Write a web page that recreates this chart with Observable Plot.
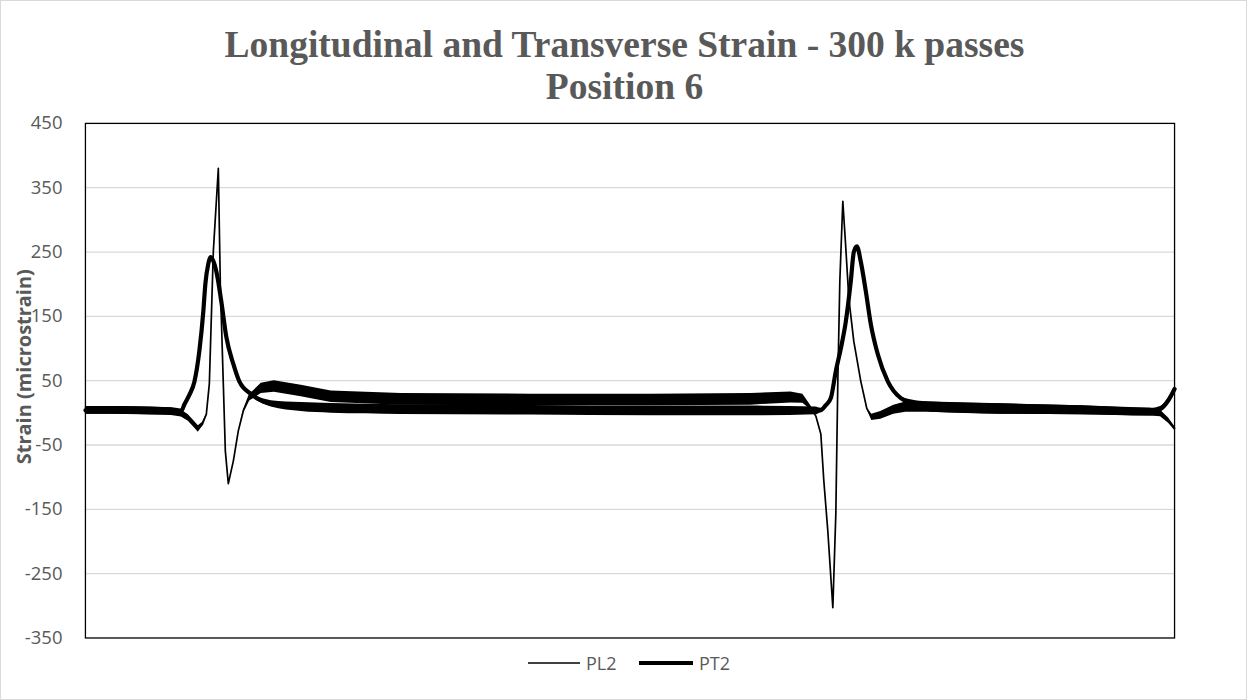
<!DOCTYPE html>
<html>
<head>
<meta charset="utf-8">
<script src="https://cdn.jsdelivr.net/npm/d3@7"></script>
<script src="https://cdn.jsdelivr.net/npm/@observablehq/plot@0.6"></script>
<style>
  html, body { margin: 0; padding: 0; background: #fff; }
  #wrap { position: relative; width: 1247px; height: 700px; box-sizing: border-box; border: 1px solid #d9d9d9; overflow: hidden; }
  #chart { position: absolute; left: -1px; top: -1px; }
  #title { position: absolute; left: 0; top: 23px; width: 1247px; text-align: center;
           font-family: "Liberation Serif", "Times New Roman", serif; font-weight: 700;
           font-size: 37.5px; line-height: 42px; color: #595959; }
  #legend { position: absolute; top: 650px; left: 0; width: 1247px; height: 24px;
            font-family: "Open Sans", sans-serif; font-size: 18px; color: #595959; }
  .lg { position: absolute; top: 0; display: flex; align-items: center; height: 24px; }
</style>
</head>
<body>
<div id="wrap">
  <div id="chart"></div>
  <div id="title">Longitudinal and Transverse Strain - 300 k passes<br>Position 6</div>
  <div id="legend"></div>
</div>
<script>
// ---- data (sample position, strain in microstrain, noise half-band) ----
const yLabel = "Strain (microstrain)";
const yTicks = [-350, -250, -150, -50, 50, 150, 250, 350, 450];
const seriesNames = ["PL2", "PT2"];

const pl2T = [0,26,56,86,96,103,109,113,117,121,124,128,133,135,138,140,143,148,153,158,164,176,189,216,246,316,446,566,666,706,718,726,731,736,739,743,748,751,753,755,758,761,764,769,776,782,787,796,809,821,846,916,996,1066,1076,1084,1090];
const pl2V = [4,4,3,2,-1,-8,-18,-25,-18,-2,45,251,380,200,45,-59,-110,-75,-28,3,23,38,41,34,25,21,20,20,21,24,22,8,-5,-33,-106,-184,-303,-157,49,205,329,256,178,111,49,7,-7,-4,5,9,9,6,4,1,-1,-12,-24];
const pl2N = [6,6,6,6,5.5,5,5,5,3,0,0,0,0,0,0,0,0,0,0,1,5,8,9,9,9,9,9,9,9,8.5,7,3,0,0,0,0,0,0,0,0,0,0,0,0,0,1,5,6,7,8,8,8,7,6,5,4,3];

const pt2T = [0,36,66,91,96,99,104,109,114,118,120,123,125,128,131,136,141,148,154,166,186,216,246,316,446,566,666,731,736,741,746,751,756,761,766,769,772,776,781,786,793,803,816,831,846,916,996,1066,1076,1084,1090];
const pt2V = [4,4,3,2,3,13,28,48,96,158,200,232,242,236,220,173,118,76,49,29,14,9,7,5,4,3,3,3,4,12,23,65,100,142,205,250,259,235,189,138,91,49,23,14,9,6,4,1,6,20,37];
const pt2N = [6,6,6,5,3,0,0,0,0,0,0,0,0,0,0,0,0,0,0,2,5,7,7.5,7.5,7.5,7.5,7.5,6,3,0,0,0,0,0,0,0,0,0,0,0,0,0,2,5,8,8,7,6,4,3,2];

const pl2 = pl2T.map((t, i) => ({t, v: pl2V[i], n: pl2N[i]}));
const pt2 = pt2T.map((t, i) => ({t, v: pt2V[i], n: pt2N[i]}));
const gridVals = yTicks.filter(v => v > -350 && v < 450);

const chart = Plot.plot({
  width: 1247,
  height: 700,
  marginLeft: 85,
  marginRight: 72,
  marginTop: 123,
  marginBottom: 62,
  style: { fontFamily: "'Open Sans', sans-serif", fontSize: "18.5px", color: "#595959", background: "transparent" },
  x: { domain: [0, 1090], axis: null },
  y: { domain: [-350, 450] },
  marks: [
    Plot.ruleY(gridVals, { stroke: "#d9d9d9", strokeWidth: 1.3 }),
    Plot.axisY({ ticks: yTicks, tickSize: 0, tickPadding: 23, label: null, tickFormat: d => String(d) }),
    Plot.areaY(pt2, { x: "t", y1: d => d.v - d.n, y2: d => d.v + d.n, fill: "black", curve: "monotone-x" }),
    Plot.areaY(pl2, { x: "t", y1: d => d.v - d.n, y2: d => d.v + d.n, fill: "black", curve: "linear" }),
    Plot.line(pt2, { x: "t", y: "v", stroke: "black", strokeWidth: 4.2, curve: "monotone-x", strokeLinejoin: "round" }),
    Plot.line(pl2, { x: "t", y: "v", stroke: "black", strokeWidth: 1.7, curve: "linear", strokeLinejoin: "round" }),
    Plot.frame({ stroke: "black", strokeWidth: 1.3 }),
    Plot.text([yLabel], { frameAnchor: "left", textAnchor: "middle", rotate: -90, dx: -61, dy: -14, fontWeight: "bold", fontSize: 20, fill: "#595959" })
  ]
});
document.getElementById("chart").appendChild(chart);

// legend
const legend = document.getElementById("legend");
const items = [
  { name: seriesNames[0], x: 527, w: 52, sw: 1.7 },
  { name: seriesNames[1], x: 638, w: 54, sw: 4.2 }
];
for (const it of items) {
  const div = document.createElement("div");
  div.className = "lg";
  div.style.left = it.x + "px";
  div.innerHTML = `<svg width="${it.w}" height="24"><line x1="0" x2="${it.w}" y1="12" y2="12" stroke="black" stroke-width="${it.sw}"/></svg><span style="margin-left:6px">${it.name}</span>`;
  legend.appendChild(div);
}
</script>
</body>
</html>
